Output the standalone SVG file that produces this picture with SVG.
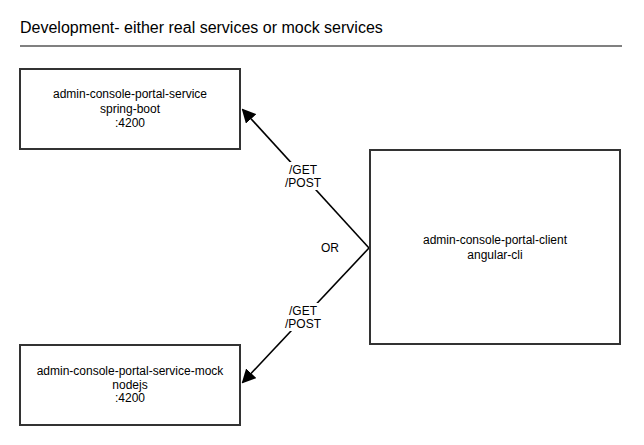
<svg xmlns="http://www.w3.org/2000/svg" width="644" height="445" viewBox="0 0 644 445">
<style>
text{font-family:"Liberation Sans",Arial,sans-serif;font-size:12px;fill:#000;text-anchor:middle}
.box{fill:#fff;stroke:#333;stroke-width:2}
.edge{stroke:#000;stroke-width:1.6;fill:none}
.lbl{fill:#fff}
</style>
<defs>
<marker id="ah" markerWidth="14" markerHeight="14" refX="12" refY="7" orient="auto" markerUnits="userSpaceOnUse">
<path d="M0,0 L14,7 L0,14 z" fill="#000"/>
</marker>
</defs>
<rect width="644" height="445" fill="#fff"/>
<g id="title">
<text x="20" y="33" style="font-size:16px;text-anchor:start">Development- either real services or mock services</text>
<line x1="20" y1="46" x2="622" y2="46" stroke="#808080" stroke-width="2"/>
</g>
<g id="connectors">
<path class="edge" d="M369,248 L243,110" marker-end="url(#ah)"/>
<path class="edge" d="M369,248 L243,382" marker-end="url(#ah)"/>
<rect class="lbl" x="283" y="162" width="40" height="28"/>
<text x="303" y="174">/GET</text>
<text x="303" y="187">/POST</text>
<rect class="lbl" x="283" y="303" width="40" height="28"/>
<text x="303" y="315">/GET</text>
<text x="303" y="328">/POST</text>
<text x="330" y="252">OR</text>
</g>
<g id="service">
<rect class="box" x="20" y="69" width="220" height="80"/>
<text x="130" y="98">admin-console-portal-service</text>
<text x="130" y="113">spring-boot</text>
<text x="130" y="127">:4200</text>
</g>
<g id="mock">
<rect class="box" x="20" y="345" width="220" height="80"/>
<text x="130" y="375">admin-console-portal-service-mock</text>
<text x="130" y="389">nodejs</text>
<text x="130" y="402">:4200</text>
</g>
<g id="client">
<rect class="box" x="370" y="150" width="250" height="194"/>
<text x="495" y="244">admin-console-portal-client</text>
<text x="495" y="259">angular-cli</text>
</g>
</svg>
